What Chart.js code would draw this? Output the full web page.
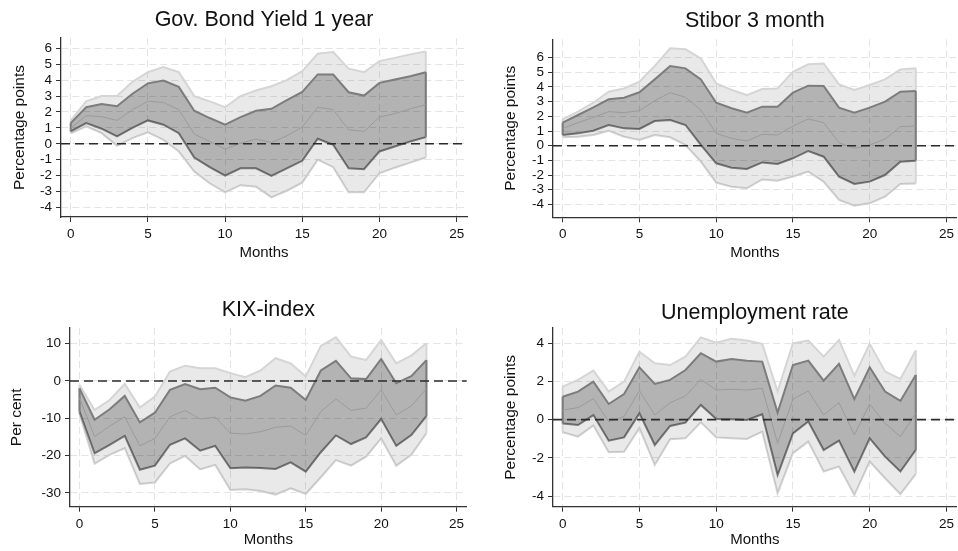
<!DOCTYPE html>
<html>
<head>
<meta charset="utf-8">
<script src="https://cdn.jsdelivr.net/npm/chart.js@4.4.1/dist/chart.umd.min.js"></script>
<style>
  body { margin: 0; background: #fff; }
  #wrap { position: relative; width: 958px; height: 551px; }
  canvas { position: absolute; }
</style>
</head>
<body>
<div id="wrap">
  <canvas id="bondChart" width="479" height="270" style="left:0;top:0"></canvas>
  <canvas id="stiborChart" width="479" height="270" style="left:479px;top:0"></canvas>
  <canvas id="kixChart" width="479" height="271" style="left:0;top:280px"></canvas>
  <canvas id="unempChart" width="479" height="271" style="left:479px;top:280px"></canvas>
</div>
<script>
  const months = [0, 1, 2, 3, 4, 5, 6, 7, 8, 9, 10, 11, 12, 13, 14, 15, 16, 17, 18, 19, 20, 21, 22, 23];
  const monthTicks = [0, 5, 10, 15, 20, 25];

  // Gov. bond yield 1 year: 90% band, 68% band, median
  const bondOuterHi = [1.45, 2.67, 3.0, 3.0, 3.9, 4.5, 4.82, 4.5, 3.0, 2.67, 2.3, 3.0, 3.35, 3.62, 4.0, 4.57, 5.66, 5.77, 4.72, 4.5, 5.2, 5.4, 5.62, 5.8];
  const bondInnerHi = [1.3, 2.3, 2.5, 2.36, 3.15, 3.8, 3.98, 3.58, 2.08, 1.62, 1.2, 1.68, 2.08, 2.2, 2.74, 3.26, 4.36, 4.36, 3.24, 3.03, 3.83, 4.04, 4.25, 4.5];
  const bondMedian  = [1.0, 1.77, 1.7, 1.47, 2.15, 2.67, 2.6, 2.15, 0.61, 0.15, -0.34, 0.04, 0.3, 0.08, 0.5, 1.05, 2.3, 2.15, 0.88, 0.78, 1.68, 1.9, 2.2, 2.46];
  const bondInnerLo = [0.78, 1.3, 0.95, 0.46, 1.0, 1.47, 1.2, 0.67, -0.86, -1.47, -2.0, -1.54, -1.54, -2.02, -1.54, -1.07, 0.32, -0.06, -1.54, -1.6, -0.48, -0.17, 0.15, 0.42];
  const bondOuterLo = [0.65, 1.1, 0.67, -0.13, 0.36, 0.72, 0.25, -0.48, -1.75, -2.48, -3.05, -2.6, -2.7, -3.37, -2.95, -2.44, -1.0, -1.47, -3.05, -3.05, -1.85, -1.5, -1.18, -0.86];
  const bondTicks = [-4, -3, -2, -1, 0, 1, 2, 3, 4, 5, 6];

  // Stibor 3 month
  const stiborOuterHi = [1.8, 2.32, 2.93, 3.68, 3.9, 4.36, 5.43, 6.64, 6.57, 5.95, 4.25, 3.8, 3.45, 3.86, 3.9, 5.04, 5.55, 5.6, 4.18, 3.8, 4.14, 4.52, 5.2, 5.27];
  const stiborInnerHi = [1.57, 2.09, 2.61, 3.16, 3.27, 3.64, 4.52, 5.43, 5.27, 4.52, 2.93, 2.55, 2.25, 2.66, 2.66, 3.61, 4.09, 4.07, 2.59, 2.25, 2.59, 3.0, 3.68, 3.73];
  const stiborMedian  = [1.18, 1.57, 1.93, 2.32, 2.25, 2.39, 3.07, 3.61, 3.3, 2.43, 0.84, 0.5, 0.32, 0.77, 0.73, 1.34, 1.82, 1.57, 0.2, -0.18, 0.05, 0.45, 1.3, 1.34];
  const stiborInnerLo = [0.73, 0.84, 1.02, 1.41, 1.18, 1.14, 1.68, 1.75, 1.41, 0.05, -1.2, -1.5, -1.59, -1.14, -1.25, -0.86, -0.36, -0.75, -2.11, -2.61, -2.45, -2.0, -1.09, -1.02];
  const stiborOuterLo = [0.57, 0.61, 0.73, 1.02, 0.61, 0.39, 0.73, 0.57, 0.05, -1.09, -2.52, -2.8, -2.9, -2.3, -2.39, -2.11, -1.77, -2.45, -3.7, -4.09, -3.93, -3.48, -2.61, -2.57];
  const stiborTicks = [-4, -3, -2, -1, 0, 1, 2, 3, 4, 5, 6];

  // KIX-index
  const kixOuterHi = [-1.1, -7.8, -5.1, -0.8, -7.1, -4.2, 2.5, 4.1, 3.4, 3.4, 2.1, 1.0, 2.8, 6.1, 4.7, 1.2, 9.4, 11.7, 6.5, 5.6, 11.0, 4.7, 6.8, 10.1];
  const kixInnerHi = [-2.0, -10.4, -7.6, -4.0, -11.1, -8.5, -2.4, -0.8, -2.2, -1.8, -4.4, -5.3, -4.0, -1.2, -1.8, -5.1, 2.8, 5.4, 0.7, 0.5, 5.9, -0.6, 1.3, 5.6];
  const kixMedian  = [-4.5, -14.9, -12.1, -9.6, -17.4, -15.4, -9.6, -7.9, -10.2, -9.7, -14.0, -14.2, -13.6, -12.4, -12.1, -14.6, -8.2, -4.8, -7.9, -7.3, -2.4, -9.1, -6.7, -2.1];
  const kixInnerLo = [-8.2, -19.4, -17.1, -14.7, -23.8, -22.7, -17.1, -15.4, -18.7, -17.4, -23.4, -23.2, -23.3, -23.6, -21.8, -24.3, -19.1, -14.6, -16.9, -15.1, -10.2, -17.4, -14.5, -9.4];
  const kixOuterLo = [-8.8, -22.2, -19.8, -18.0, -27.6, -27.2, -22.1, -20.1, -23.7, -22.5, -29.2, -29.0, -29.5, -30.5, -28.8, -30.3, -25.8, -21.2, -22.7, -20.3, -15.4, -22.7, -19.8, -14.0];
  const kixTicks = [-30, -20, -10, 0, 10];

  // Unemployment rate
  const unempOuterHi = [1.73, 2.08, 2.57, 1.47, 1.99, 3.56, 2.95, 2.86, 3.3, 4.31, 4.03, 4.23, 4.14, 3.97, 1.47, 4.0, 4.14, 3.3, 4.17, 2.29, 3.97, 2.52, 2.13, 3.62];
  const unempInnerHi = [1.2, 1.47, 1.99, 0.82, 1.34, 2.74, 1.87, 2.08, 2.6, 3.48, 3.04, 3.18, 3.09, 3.04, 0.37, 2.86, 3.09, 2.04, 2.92, 1.07, 2.74, 1.47, 0.98, 2.34];
  const unempMedian  = [0.5, 0.63, 1.1, -0.1, 0.16, 1.52, 0.24, 0.89, 1.24, 2.11, 1.55, 1.59, 1.55, 1.64, -1.24, 1.08, 1.5, 0.24, 0.89, -0.8, 0.82, -0.19, -0.89, 0.33];
  const unempInnerLo = [-0.2, -0.28, 0.24, -1.1, -0.93, 0.33, -1.33, -0.33, -0.16, 0.77, 0.03, 0.02, -0.02, 0.28, -2.9, -0.72, -0.1, -1.59, -1.1, -2.72, -0.98, -1.94, -2.72, -1.59];
  const unempOuterLo = [-0.66, -0.89, -0.31, -1.71, -1.68, -0.45, -2.38, -1.03, -0.98, -0.14, -0.93, -0.98, -1.01, -0.63, -3.86, -1.76, -1.15, -2.72, -2.46, -3.95, -2.2, -3.07, -3.9, -2.85];
  const unempTicks = [-4, -2, 0, 2, 4];

  const FONT = '"Liberation Sans", Arial, sans-serif';

  // dashed reference line at zero across the plot
  const zeroLine = {
    id: 'zeroLine',
    afterDatasetsDraw(chart) {
      const { ctx, chartArea, scales } = chart;
      const y = scales.y.getPixelForValue(0);
      ctx.save();
      ctx.strokeStyle = '#2b2b2b';
      ctx.lineWidth = 1.6;
      ctx.setLineDash([9, 5]);
      ctx.beginPath();
      ctx.moveTo(chartArea.left, y);
      ctx.lineTo(chartArea.right, y);
      ctx.stroke();
      ctx.restore();
    }
  };

  // close the band outlines at the first and last month
  const bandEdges = {
    id: 'bandEdges',
    afterDatasetDraw(chart, args) {
      const ds = chart.data.datasets[args.index];
      if (ds.fill !== '+1') return;
      const upper = args.meta.data;
      const lower = chart.getDatasetMeta(args.index + 1).data;
      const ctx = chart.ctx;
      ctx.save();
      ctx.strokeStyle = ds.borderColor;
      ctx.lineWidth = ds.borderWidth;
      [0, upper.length - 1].forEach(i => {
        ctx.beginPath();
        ctx.moveTo(upper[i].x, upper[i].y);
        ctx.lineTo(lower[i].x, lower[i].y);
        ctx.stroke();
      });
      ctx.restore();
    }
  };

  function pairs(vals) {
    return months.map((m, i) => ({ x: m, y: vals[i] }));
  }

  function irfChart(id, p) {
    return new Chart(document.getElementById(id), {
      type: 'line',
      data: {
        datasets: [
          { data: pairs(p.outerHi), fill: '+1', backgroundColor: 'rgba(0,0,0,0.085)', borderColor: '#d5d5d5', borderWidth: 2, order: 4 },
          { data: pairs(p.outerLo), fill: false, borderColor: '#d5d5d5', borderWidth: 2, order: 4 },
          { data: pairs(p.innerHi), fill: '+1', backgroundColor: 'rgba(0,0,0,0.235)', borderColor: '#7c7c7c', borderWidth: 2, order: 2 },
          { data: pairs(p.innerLo), fill: false, borderColor: '#7c7c7c', borderWidth: 2, order: 2 },
          { data: pairs(p.median), fill: false, borderColor: '#9a9a9a', borderWidth: 1, order: 1 }
        ]
      },
      options: {
        responsive: false,
        animation: false,
        elements: { point: { radius: 0 }, line: { tension: 0 } },
        layout: { padding: { left: 0, right: p.padRight, top: 0, bottom: 0 } },
        plugins: {
          legend: { display: false },
          tooltip: { enabled: false },
          title: {
            display: true,
            text: p.title,
            fullSize: false,
            color: '#111',
            font: { family: FONT, size: 21.5, weight: 'normal' },
            padding: { top: p.titleTop, bottom: p.titleBottom }
          }
        },
        scales: {
          x: {
            type: 'linear',
            min: -0.63,
            max: 25.67,
            afterBuildTicks: s => { s.ticks = monthTicks.map(v => ({ value: v })); },
            afterFit: s => { s.height = p.xHeight; },
            grid: { color: '#e4e4e4', tickColor: '#333', tickLength: 5, tickWidth: 1 },
            border: { color: '#333', width: 1.3, dash: [7, 4] },
            ticks: { color: '#111', font: { family: FONT, size: 13.5 }, padding: 4, maxRotation: 0, autoSkip: false },
            title: {
              display: true,
              text: 'Months',
              color: '#111',
              font: { family: FONT, size: 15 },
              padding: { top: 0, bottom: p.xTitleBottom }
            }
          },
          y: {
            min: p.yMin,
            max: p.yMax,
            afterBuildTicks: s => { s.ticks = p.yTicks.map(v => ({ value: v })); },
            afterFit: s => { s.width = p.yWidth; },
            grid: { color: '#e4e4e4', tickColor: '#333', tickLength: 5, tickWidth: 1 },
            border: { color: '#333', width: 1.3, dash: [7, 4] },
            ticks: { color: '#111', font: { family: FONT, size: 13.5 }, padding: 4, autoSkip: false },
            title: {
              display: true,
              text: p.yLabel,
              color: '#111',
              font: { family: FONT, size: 15.5 },
              padding: { top: p.yTitleLeft, bottom: 0 }
            }
          }
        }
      },
      plugins: [bandEdges, zeroLine]
    });
  }

  irfChart('bondChart', {
    title: 'Gov. Bond Yield 1 year', yLabel: 'Percentage points',
    outerHi: bondOuterHi, innerHi: bondInnerHi, median: bondMedian, innerLo: bondInnerLo, outerLo: bondOuterLo,
    yTicks: bondTicks, yMin: -4.6, yMax: 6.65,
    yWidth: 61, padRight: 12, xHeight: 53, titleTop: 7.1, titleBottom: 5.1, xTitleBottom: 8.4, yTitleLeft: 10.3
  });

  irfChart('stiborChart', {
    title: 'Stibor 3 month', yLabel: 'Percentage points',
    outerHi: stiborOuterHi, innerHi: stiborInnerHi, median: stiborMedian, innerLo: stiborInnerLo, outerLo: stiborOuterLo,
    yTicks: stiborTicks, yMin: -4.88, yMax: 7.25,
    yWidth: 74, padRight: 0, xHeight: 52.7, titleTop: 7.9, titleBottom: 5.6, xTitleBottom: 8.4, yTitleLeft: 22.8
  });

  irfChart('kixChart', {
    title: 'KIX-index', yLabel: 'Per cent',
    outerHi: kixOuterHi, innerHi: kixInnerHi, median: kixMedian, innerLo: kixInnerLo, outerLo: kixOuterLo,
    yTicks: kixTicks, yMin: -33.7, yMax: 14.2,
    yWidth: 70, padRight: 12.3, xHeight: 44.3, titleTop: 16.8, titleBottom: 5.4, xTitleBottom: 1.9, yTitleLeft: 7
  });

  irfChart('unempChart', {
    title: 'Unemployment rate', yLabel: 'Percentage points',
    outerHi: unempOuterHi, innerHi: unempInnerHi, median: unempMedian, innerLo: unempInnerLo, outerLo: unempOuterLo,
    yTicks: unempTicks, yMin: -4.56, yMax: 4.8,
    yWidth: 74, padRight: 0, xHeight: 44.3, titleTop: 19.8, titleBottom: 2.4, xTitleBottom: 1.9, yTitleLeft: 22.8
  });
</script>
</body>
</html>
